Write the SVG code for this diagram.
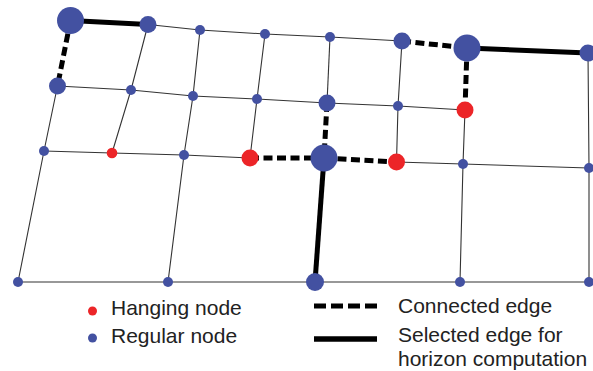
<svg xmlns="http://www.w3.org/2000/svg" width="593" height="371" viewBox="0 0 593 371">
  <style>
    .grid { fill: none; stroke: #333; stroke-width: 1.1; stroke-linejoin: round; }
    .dash { fill: none; stroke: #000; stroke-width: 5; stroke-dasharray: 9 4.5; }
    .sel { fill: none; stroke: #000; stroke-width: 5; stroke-linecap: butt; }
    .reg { fill: #4351a1; }
    .hang { fill: #ec2528; }
    .lbl { font-family: "Liberation Sans", Arial, sans-serif; font-size: 21px; fill: #222; }
  </style>
  <rect width="593" height="371" fill="#fff"/>

  <!-- mesh edges -->
  <g id="connectors">
    <!-- thin element edges -->
    <path class="grid" d="M148,24.5 L200,30 L265,34 L330,37 L402,41"/>
    <path class="grid" d="M57.5,86 L131,90 L193,96 L257,99 L327,103 L398,106 L465,110"/>
    <path class="grid" d="M44,151 L112,153 L184,155 L250,158"/>
    <path class="grid" d="M396.5,162 L463,164 L589,168"/>
    <path class="grid" d="M18,282 L593,282"/>
    <path class="grid" d="M57.5,86 L44,151 L18,282"/>
    <path class="grid" d="M148,24.5 L131,90 L112,153"/>
    <path class="grid" d="M200,30 L193,96 L184,155 L168,282"/>
    <path class="grid" d="M265,34 L257,99 L250,158"/>
    <path class="grid" d="M330,37 L327,103"/>
    <path class="grid" d="M402,41 L398,106 L396.5,162"/>
    <path class="grid" d="M465,110 L463,164 L460,282"/>
    <path class="grid" d="M588,53 L589,168 L589,282"/>
    <!-- connected edges -->
    <path class="dash" d="M70.5,20.5 L57.5,86"/>
    <path class="dash" d="M402,41 L467,48"/>
    <path class="dash" d="M467,48 L465,110"/>
    <path class="dash" d="M327,103 L324,158"/>
    <path class="dash" d="M250,158 L324,158"/>
    <path class="dash" d="M324,158 L396.5,162"/>
    <!-- selected edges -->
    <path class="sel" d="M70.5,20.5 L148,24.5"/>
    <path class="sel" d="M467,48 L588,53"/>
    <path class="sel" d="M324,158 L315,282"/>
  </g>

  <!-- nodes: row 1 -->
  <g id="n-r1c0"><circle class="reg" cx="70.5" cy="20.5" r="13.5"/></g>
  <g id="n-r1c1"><circle class="reg" cx="148" cy="24.5" r="8.5"/></g>
  <g id="n-r1c2"><circle class="reg" cx="200" cy="30" r="5"/></g>
  <g id="n-r1c3"><circle class="reg" cx="265" cy="34" r="5"/></g>
  <g id="n-r1c4"><circle class="reg" cx="330" cy="37" r="5"/></g>
  <g id="n-r1c5"><circle class="reg" cx="402" cy="41" r="8.5"/></g>
  <g id="n-r1c6"><circle class="reg" cx="467" cy="48" r="13.5"/></g>
  <g id="n-r1c7"><circle class="reg" cx="588" cy="53" r="8.5"/></g>
  <!-- row 2 -->
  <g id="n-r2c0"><circle class="reg" cx="57.5" cy="86" r="8.5"/></g>
  <g id="n-r2c1"><circle class="reg" cx="131" cy="90" r="5"/></g>
  <g id="n-r2c2"><circle class="reg" cx="193" cy="96" r="5"/></g>
  <g id="n-r2c3"><circle class="reg" cx="257" cy="99" r="5"/></g>
  <g id="n-r2c4"><circle class="reg" cx="327" cy="103" r="8.5"/></g>
  <g id="n-r2c5"><circle class="reg" cx="398" cy="106" r="5"/></g>
  <g id="n-r2c6"><circle class="hang" cx="465" cy="110" r="8.5"/></g>
  <!-- row 3 -->
  <g id="n-r3c0"><circle class="reg" cx="44" cy="151" r="5"/></g>
  <g id="n-r3c1"><circle class="hang" cx="112" cy="153" r="5.3"/></g>
  <g id="n-r3c2"><circle class="reg" cx="184" cy="155" r="5"/></g>
  <g id="n-r3c3"><circle class="hang" cx="250" cy="158" r="8.5"/></g>
  <g id="n-r3c4"><circle class="reg" cx="324" cy="158" r="13.5"/></g>
  <g id="n-r3c5"><circle class="hang" cx="396.5" cy="162" r="8.5"/></g>
  <g id="n-r3c6"><circle class="reg" cx="463" cy="164" r="5"/></g>
  <g id="n-r3c7"><circle class="reg" cx="589" cy="168" r="5"/></g>
  <!-- row 4 -->
  <g id="n-r4c0"><circle class="reg" cx="18" cy="282" r="5"/></g>
  <g id="n-r4c2"><circle class="reg" cx="168" cy="282" r="5"/></g>
  <g id="n-r4c4"><circle class="reg" cx="315" cy="282" r="9"/></g>
  <g id="n-r4c6"><circle class="reg" cx="460" cy="282" r="5"/></g>
  <g id="n-r4c7"><circle class="reg" cx="589" cy="282" r="5"/></g>

  <!-- legend -->
  <g id="legend">
    <circle class="hang" cx="92.5" cy="311" r="4.5"/>
    <text class="lbl" x="111" y="315">Hanging node</text>
    <circle class="reg" cx="92.5" cy="338" r="4.5"/>
    <text class="lbl" x="111" y="343">Regular node</text>
    <path d="M314,306 L377,306" fill="none" stroke="#000" stroke-width="5" stroke-dasharray="12 5"/>
    <text class="lbl" x="398" y="313">Connected edge</text>
    <path d="M314,339 L377,339" fill="none" stroke="#000" stroke-width="5.5"/>
    <text class="lbl" x="398" y="342">Selected edge for</text>
    <text class="lbl" x="398" y="366">horizon computation</text>
  </g>
</svg>
